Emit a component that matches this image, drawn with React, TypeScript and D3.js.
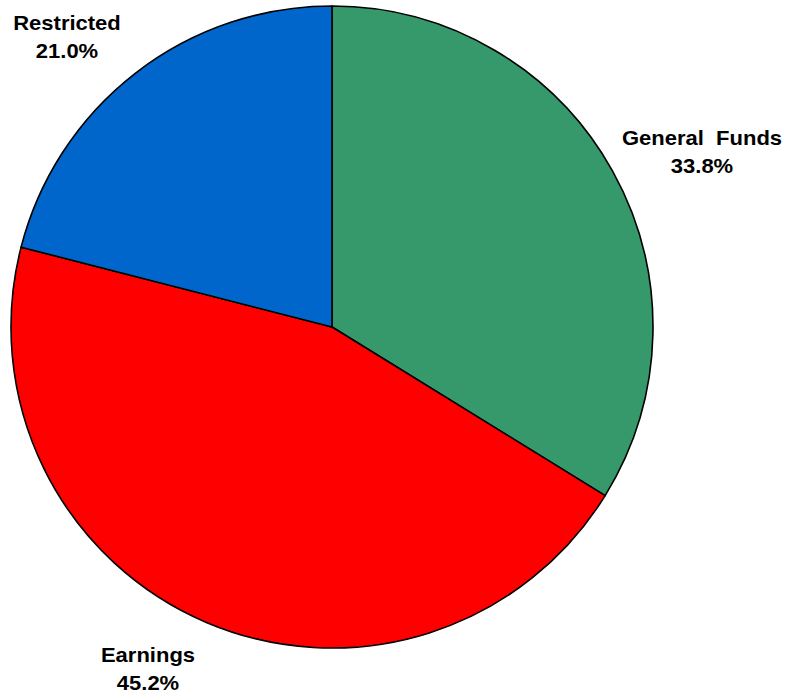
import React from "react";
import * as d3 from "d3";

const categories = ["General  Funds", "Earnings", "Restricted"];
const values = [33.8, 45.2, 21.0];
const valueLabels = ["33.8%", "45.2%", "21.0%"];
const colors = ["#36996B", "#FF0000", "#0066CC"];

const labelPos = [
  { x: 702, y: 145 },
  { x: 148, y: 662 },
  { x: 67, y: 30 },
];

export default function App() {
  const width = 790;
  const height = 700;
  const cx = 332;
  const cy = 327;
  const r = 321;
  const pie = d3.pie<number>().sort(null).value((d) => d);
  const arcs = pie(values);
  const arc = d3.arc<d3.PieArcDatum<number>>().innerRadius(0).outerRadius(r);
  return (
    <svg width={width} height={height} style={{ position: "absolute", left: 0, top: 0 }}>
      <g transform={`translate(${cx},${cy})`}>
        {arcs.map((a, i) => (
          <path key={i} d={arc(a) || ""} fill={colors[i]} stroke="#000" strokeWidth={1.6} strokeLinejoin="round" />
        ))}
      </g>
      {categories.map((c, i) => (
        <g key={c} transform={`translate(${labelPos[i].x},${labelPos[i].y}) scale(1.1,1)`}>
          <text
            textAnchor="middle"
            fontFamily="Liberation Sans, Arial, sans-serif"
            fontWeight="bold"
            fontSize={20}
            fill="#000"
            style={{ whiteSpace: "pre" }}
          >
            {c}
          </text>
          <text
            y={28.5}
            textAnchor="middle"
            fontFamily="Liberation Sans, Arial, sans-serif"
            fontWeight="bold"
            fontSize={20}
            fill="#000"
          >
            {valueLabels[i]}
          </text>
        </g>
      ))}
    </svg>
  );
}
